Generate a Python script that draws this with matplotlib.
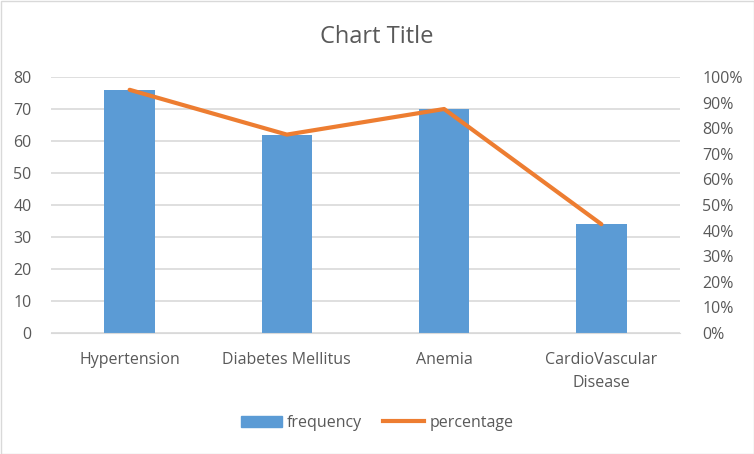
import matplotlib.pyplot as plt
import matplotlib.patches as mpatches
import matplotlib.lines as mlines
from matplotlib.ticker import PercentFormatter

categories = ['Hypertension', 'Diabetes Mellitus', 'Anemia', 'CardioVascular\nDisease']
frequency = [76, 62, 70, 34]
percentage = [0.95, 0.775, 0.875, 0.425]

plt.rcParams['font.family'] = ['Open Sans', 'DejaVu Sans']
grey = '#595959'

fig = plt.figure(figsize=(7.54, 4.54), dpi=100)
ax = fig.add_axes([51 / 754, 121 / 454, 629 / 754, 256 / 454])
x = range(len(categories))
ax.bar(x, frequency, width=0.32, color='#5B9BD5', zorder=2)
ax.set_ylim(0, 80)
ax.set_xlim(-0.5, len(categories) - 0.5)
ax.set_yticks(range(0, 81, 10))
ax.set_xticks(list(x))
ax.set_xticklabels(categories, fontsize=11.5, color=grey, linespacing=1.55)
ax.grid(axis='y', color='#D9D9D9', linewidth=1.2, zorder=0)
ax.tick_params(length=0, labelsize=11.5, colors=grey)
ax.tick_params(axis='x', pad=14)
ax.tick_params(axis='y', pad=14)
for s in ax.spines.values():
    s.set_visible(False)
ax.spines['bottom'].set_visible(True)
ax.spines['bottom'].set_color('#D9D9D9')

ax2 = ax.twinx()
ax2.plot(list(x), percentage, color='#ED7D31', linewidth=3, solid_capstyle='round', zorder=3)
ax2.set_ylim(0, 1)
ax2.set_yticks([i / 10 for i in range(11)])
ax2.yaxis.set_major_formatter(PercentFormatter(1.0, decimals=0))
ax2.tick_params(length=0, labelsize=11.5, colors=grey, pad=16)
for s in ax2.spines.values():
    s.set_visible(False)

fig.text(0.5, 1 - 37 / 454, 'Chart Title', ha='center', va='center', fontsize=17, color=grey)

handles = [mpatches.Patch(color='#5B9BD5', label='frequency'),
           mlines.Line2D([], [], color='#ED7D31', linewidth=3, label='percentage')]
fig.legend(handles=handles, loc='center', bbox_to_anchor=(0.5, 1 - 423 / 454), ncol=2,
           frameon=False, fontsize=11.5, labelcolor=grey, handlelength=2.6, handletextpad=0.3,
           columnspacing=1.3)

fig.patches.append(mpatches.Rectangle((0.5 / 754, 0.5 / 454), 753 / 754, 453 / 454,
                                      transform=fig.transFigure, fill=False,
                                      edgecolor='#D9D9D9', linewidth=1))
fig.savefig('out.png', dpi=100)
